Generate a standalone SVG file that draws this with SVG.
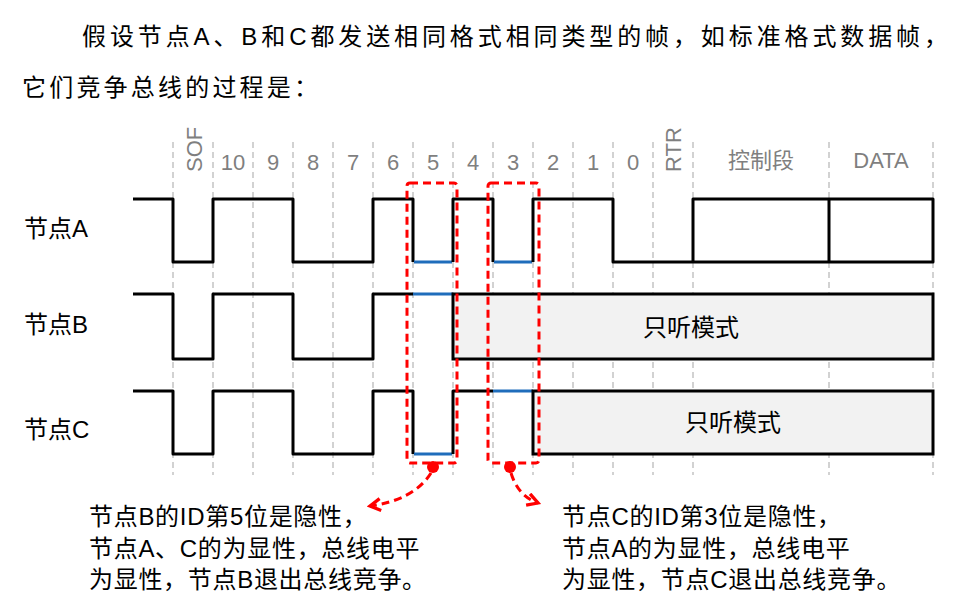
<svg xmlns="http://www.w3.org/2000/svg" width="966" height="602" viewBox="0 0 966 602">
<style>
.txt{font-family:"Liberation Sans","Noto Sans CJK SC",sans-serif;fill:#000}
.hdr{font-family:"Liberation Sans","Noto Sans CJK SC",sans-serif;fill:#7f7f7f;font-size:22px;text-anchor:middle}
.grid{stroke:#c3c3c3;stroke-width:1.5;stroke-dasharray:6 4;fill:none}
.wave{stroke:#000;stroke-width:3;fill:none;stroke-linejoin:round}
.blue{stroke:#1f6dbb;stroke-width:3;fill:none}
.box{stroke:#000;stroke-width:3;fill:#f2f2f2}
.red{stroke:#ff0000;stroke-width:3;stroke-dasharray:8 5;fill:none}
.note{font-size:24px;letter-spacing:0.7px}
</style>
<defs>
<marker id="ah" viewBox="0 0 10 10" refX="8" refY="5" markerWidth="5" markerHeight="5" orient="auto" markerUnits="strokeWidth">
<path d="M1 1 L8 5 L1 9" fill="none" stroke="#ff0000" stroke-width="2.2"/>
</marker>
</defs>
<rect width="966" height="602" fill="#fff"/>
<g id="intro">
<text class="txt" x="82" y="45" font-size="24" textLength="866" lengthAdjust="spacing">假设节点A、B和C都发送相同格式相同类型的帧，如标准格式数据帧，</text>
<text class="txt" x="22" y="96" font-size="24" textLength="296" lengthAdjust="spacing">它们竞争总线的过程是：</text>
</g>
<g id="grid">
<path class="grid" d="M173 142V475M213 142V475M253 142V475M293 142V475M333 142V475M373 142V475M413 142V475M453 142V475M493 142V475M533 142V475M573 142V475M613 142V475M653 142V475M693 142V475M829 142V475M933 142V475"/>
</g>
<g id="header">
<text class="hdr" transform="translate(202 172) rotate(-90)" style="text-anchor:start">SOF</text>
<text class="hdr" x="233" y="170">10</text>
<text class="hdr" x="273" y="170">9</text>
<text class="hdr" x="313" y="170">8</text>
<text class="hdr" x="353" y="170">7</text>
<text class="hdr" x="393" y="170">6</text>
<text class="hdr" x="433" y="170">5</text>
<text class="hdr" x="473" y="170">4</text>
<text class="hdr" x="513" y="170">3</text>
<text class="hdr" x="553" y="170">2</text>
<text class="hdr" x="593" y="170">1</text>
<text class="hdr" x="633" y="170">0</text>
<text class="hdr" transform="translate(681 172) rotate(-90)" style="text-anchor:start">RTR</text>
<text class="hdr" x="761" y="168">控制段</text>
<text class="hdr" x="881" y="168">DATA</text>
</g>
<g id="nodeA">
<text class="txt" x="24" y="237" font-size="24">节点A</text>
<path class="wave" d="M133 199H173V262H213V199H293V262H373V199H413V262"/>
<path class="blue" d="M414 262H452"/>
<path class="wave" d="M453 262V199H493V262"/>
<path class="blue" d="M494 262H532"/>
<path class="wave" d="M533 262V199H613V262H693V199H933V262H693M829 199V262"/>
</g>
<g id="nodeB">
<text class="txt" x="24" y="333" font-size="24">节点B</text>
<path class="wave" d="M133 294H173V359H213V294H293V359H373V294H413"/>
<path class="blue" d="M413 294H453"/>
<rect class="box" x="453" y="294" width="480" height="65"/>
<text class="txt" x="691" y="336" font-size="24" text-anchor="middle">只听模式</text>
</g>
<g id="nodeC">
<text class="txt" x="24" y="438" font-size="24">节点C</text>
<path class="wave" d="M133 391H173V454H213V391H293V454H373V391H413V454"/>
<path class="blue" d="M414 454H452"/>
<path class="wave" d="M453 454V391H493"/>
<path class="blue" d="M493 391H533"/>
<rect class="box" x="533" y="391" width="400" height="63"/>
<text class="txt" x="733" y="431" font-size="24" text-anchor="middle">只听模式</text>
</g>
<g id="highlight1">
<rect class="red" x="407" y="183" width="50" height="280" rx="3"/>
<circle cx="433" cy="467" r="6" fill="#ff0000"/>
</g>
<g id="highlight2">
<rect class="red" x="488" y="183" width="51" height="280" rx="3"/>
<circle cx="510" cy="467" r="6" fill="#ff0000"/>
</g>
<g id="connectors">
<path d="M431 473 Q414 500 370 506" fill="none" stroke="#ff0000" stroke-width="3" stroke-dasharray="8 5" marker-end="url(#ah)"/>
<path d="M511 473 Q518 496 538 503" fill="none" stroke="#ff0000" stroke-width="3" stroke-dasharray="8 5" marker-end="url(#ah)"/>
</g>
<g id="noteB">
<text class="txt note"><tspan x="89" y="525">节点B的ID第5位是隐性，</tspan><tspan x="89" y="557">节点A、C的为显性，总线电平</tspan><tspan x="89" y="588">为显性，节点B退出总线竞争。</tspan></text>
</g>
<g id="noteC">
<text class="txt note"><tspan x="562" y="525">节点C的ID第3位是隐性，</tspan><tspan x="562" y="557">节点A的为显性，总线电平</tspan><tspan x="562" y="588">为显性，节点C退出总线竞争。</tspan></text>
</g>
</svg>
